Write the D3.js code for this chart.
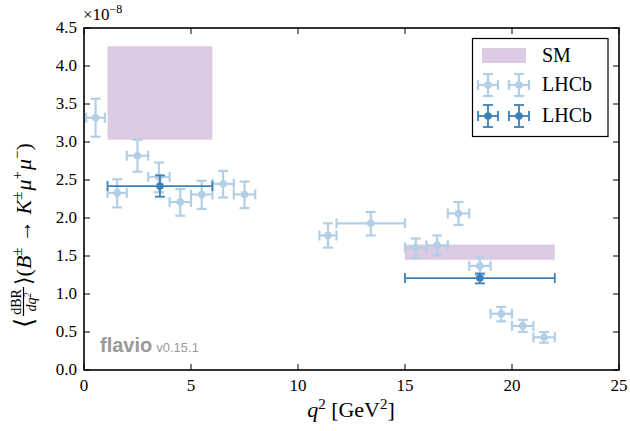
<!DOCTYPE html>
<html>
<head>
<meta charset="utf-8">
<script src="https://cdn.jsdelivr.net/npm/d3@7"></script>
<style>
  body { margin: 0; background: #fff; }
</style>
</head>
<body>
<svg width="630" height="431"></svg>
<script>
// LHCb bins (light), values in units of 1e-8
var binLo  = [0.1, 1.1, 2, 3, 4, 5, 6, 7, 11, 11.8, 15, 16, 17, 18, 19, 20, 21];
var binHi  = [0.98, 2, 3, 4, 5, 6, 7, 8, 11.8, 15, 16, 17, 18, 19, 20, 21, 22];
var binVal = [3.32, 2.33, 2.82, 2.54, 2.21, 2.31, 2.45, 2.31, 1.77, 1.93, 1.61, 1.64, 2.06, 1.37, 0.74, 0.58, 0.43];
var errUp  = [0.25, 0.18, 0.21, 0.19, 0.17, 0.18, 0.17, 0.17, 0.16, 0.15, 0.12, 0.13, 0.15, 0.11, 0.09, 0.08, 0.07];
var errDn  = [0.25, 0.19, 0.21, 0.20, 0.18, 0.19, 0.18, 0.18, 0.16, 0.16, 0.13, 0.13, 0.15, 0.12, 0.10, 0.08, 0.07];

// LHCb wide bins (dark)
var wideLo  = [1.1, 15];
var wideHi  = [6, 22];
var wideVal = [2.42, 1.21];
var wideUp  = [0.14, 0.06];
var wideDn  = [0.14, 0.07];

// SM predictions
var smLo  = [1.1, 15];
var smHi  = [6, 22];
var smMin = [3.03, 1.45];
var smMax = [4.26, 1.65];

var xTicks = [0, 5, 10, 15, 20, 25];
var yTicks = [0, 0.5, 1, 1.5, 2, 2.5, 3, 3.5, 4, 4.5];

var serif = "'Liberation Serif', 'DejaVu Serif', 'Times New Roman', serif";

var svg = d3.select("svg").attr("font-family", serif),
    margin = {top: 28, right: 11, bottom: 61, left: 84},
    width = 630 - margin.left - margin.right,
    height = 431 - margin.top - margin.bottom,
    g = svg.append("g").attr("transform", "translate(" + margin.left + "," + margin.top + ")");

var x = d3.scaleLinear().domain([0, 25]).range([0, width]);
var y = d3.scaleLinear().domain([0, 4.5]).range([height, 0]);

var light = "#b3cfe5", dark = "#3a80bb", purple = "#dccae3";

// SM boxes
g.selectAll("rect.sm")
  .data(smLo)
  .enter().append("rect")
    .attr("class", "sm")
    .attr("x", function(d) { return x(d); })
    .attr("width", function(d, i) { return x(smHi[i]) - x(d); })
    .attr("y", function(d, i) { return y(smMax[i]); })
    .attr("height", function(d, i) { return y(smMin[i]) - y(smMax[i]); })
    .attr("fill", purple);

function errorbar(sel, cx, cy, x0, x1, y0, y1, col, sw) {
  var gg = sel.append("g").attr("stroke", col).attr("stroke-width", sw).attr("fill", col);
  gg.append("line").attr("x1", x0).attr("x2", x1).attr("y1", cy).attr("y2", cy);
  gg.append("line").attr("x1", cx).attr("x2", cx).attr("y1", y0).attr("y2", y1);
  [x0, x1].forEach(function(px) {
    gg.append("line").attr("x1", px).attr("x2", px).attr("y1", cy - 5).attr("y2", cy + 5);
  });
  [y0, y1].forEach(function(py) {
    gg.append("line").attr("x1", cx - 5).attr("x2", cx + 5).attr("y1", py).attr("y2", py);
  });
  gg.append("circle").attr("cx", cx).attr("cy", cy).attr("r", 3.8).attr("stroke", "none");
}

var pts = g.append("g");
binVal.forEach(function(v, i) {
  var c = (binLo[i] + binHi[i]) / 2;
  errorbar(pts, x(c), y(v), x(binLo[i]), x(binHi[i]), y(v + errUp[i]), y(v - errDn[i]), light, 2.2);
});
wideVal.forEach(function(v, i) {
  var c = (wideLo[i] + wideHi[i]) / 2;
  errorbar(pts, x(c), y(v), x(wideLo[i]), x(wideHi[i]), y(v + wideUp[i]), y(v - wideDn[i]), dark, 1.8);
});

// ticks on all four sides, inward
var tk = g.append("g").attr("stroke", "#000").attr("stroke-width", 1);
xTicks.forEach(function(t) {
  tk.append("line").attr("x1", x(t)).attr("x2", x(t)).attr("y1", height).attr("y2", height - 6);
  tk.append("line").attr("x1", x(t)).attr("x2", x(t)).attr("y1", 0).attr("y2", 6);
});
yTicks.forEach(function(t) {
  tk.append("line").attr("x1", 0).attr("x2", 6).attr("y1", y(t)).attr("y2", y(t));
  tk.append("line").attr("x1", width).attr("x2", width - 6).attr("y1", y(t)).attr("y2", y(t));
});

g.append("rect").attr("width", width).attr("height", height)
  .attr("fill", "none").attr("stroke", "#000").attr("stroke-width", 1.6);

// tick labels
g.selectAll("text.xt").data(xTicks).enter().append("text")
  .attr("x", function(d) { return x(d); }).attr("y", height + 21)
  .attr("text-anchor", "middle").attr("font-size", 17)
  .text(function(d) { return d; });
g.selectAll("text.yt").data(yTicks).enter().append("text")
  .attr("x", -7).attr("y", function(d) { return y(d) + 5; })
  .attr("text-anchor", "end").attr("font-size", 17)
  .text(function(d) { return d.toFixed(1); });

// offset text
var off = svg.append("text").attr("x", 83).attr("y", 20).attr("font-size", 17);
off.append("tspan").text("×10");
off.append("tspan").attr("dy", -7).attr("font-size", 12).text("−8");

// x label
var xl = svg.append("text").attr("x", 351).attr("y", 417).attr("text-anchor", "middle").attr("font-size", 22);
xl.append("tspan").attr("font-style", "italic").text("q");
xl.append("tspan").attr("dy", -8).attr("font-size", 15).text("2");
xl.append("tspan").attr("dy", 8).text(" [GeV");
xl.append("tspan").attr("dy", -8).attr("font-size", 15).text("2");
xl.append("tspan").attr("dy", 8).text("]");

// y label (rotated)
var yl = svg.append("g").attr("transform", "translate(31,328) rotate(-90)");
yl.append("text").attr("x", 0).attr("y", 2).attr("font-size", 26).text("⟨");
var fr = yl.append("g").attr("transform", "translate(12,0)");
fr.append("text").attr("x", 14).attr("y", -10).attr("text-anchor", "middle").attr("font-size", 14).text("dBR");
fr.append("line").attr("x1", 0).attr("x2", 29).attr("y1", -7.5).attr("y2", -7.5).attr("stroke", "#000").attr("stroke-width", 1.2);
var den = fr.append("text").attr("x", 14).attr("y", 5).attr("text-anchor", "middle").attr("font-size", 14).attr("font-style", "italic");
den.append("tspan").text("dq");
den.append("tspan").attr("dy", -5).attr("font-size", 10).text("2");
var rest = yl.append("text").attr("x", 43).attr("y", 0).attr("font-size", 22);
rest.append("tspan").text("⟩(");
rest.append("tspan").attr("font-style", "italic").text("B");
rest.append("tspan").attr("dy", -9).attr("font-size", 15).text("±");
rest.append("tspan").attr("dy", 9).text(" → ");
rest.append("tspan").attr("font-style", "italic").text("K");
rest.append("tspan").attr("dy", -9).attr("font-size", 15).text("±");
rest.append("tspan").attr("dy", 9).attr("dx", 1).attr("font-style", "italic").text("μ");
rest.append("tspan").attr("dy", -9).attr("font-size", 15).text("+");
rest.append("tspan").attr("dy", 9).attr("dx", 1).attr("font-style", "italic").text("μ");
rest.append("tspan").attr("dy", -9).attr("font-size", 15).text("−");
rest.append("tspan").attr("dy", 9).text(")");

// flavio logo
var fl = svg.append("text").attr("x", 100).attr("y", 352).attr("fill", "#999")
  .attr("font-family", "'Liberation Sans', Arial, sans-serif");
fl.append("tspan").attr("font-size", 20).attr("font-weight", "bold").text("flavio");
fl.append("tspan").attr("dx", 4).attr("font-size", 13).text("v0.15.1");

// legend
var lg = svg.append("g");
lg.append("rect").attr("x", 472.5).attr("y", 38.5).attr("width", 135.5).attr("height", 98)
  .attr("fill", "#fff").attr("stroke", "#000").attr("stroke-width", 1.2);
lg.append("rect").attr("x", 482).attr("y", 48).attr("width", 44).attr("height", 15).attr("fill", purple);
var labels = ["SM", "LHCb", "LHCb"], ly = [56, 85, 116];
labels.forEach(function(t, i) {
  lg.append("text").attr("x", 542).attr("y", ly[i] + 6).attr("font-size", 20).text(t);
});
[[light, 2.2], [dark, 1.8]].forEach(function(s, i) {
  [488, 519].forEach(function(px) {
    errorbar(lg, px, ly[i + 1], px - 10, px + 10, ly[i + 1] - 11, ly[i + 1] + 11, s[0], s[1]);
  });
});
</script>
</body>
</html>
